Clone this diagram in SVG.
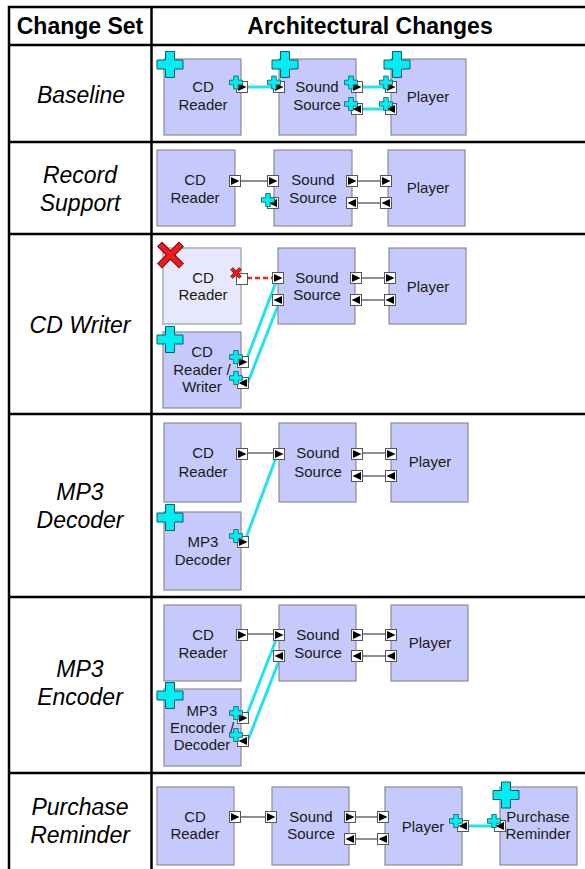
<svg xmlns="http://www.w3.org/2000/svg" width="585" height="869" viewBox="0 0 585 869">
<style>
.bg{fill:#ffffff}
.grid{stroke:#000;stroke-width:2.5;fill:none}
.hd{font-family:"Liberation Sans",Arial,sans-serif;font-weight:bold;font-size:23px;fill:#000;text-anchor:middle}
.rl{font-family:"Liberation Sans",Arial,sans-serif;font-style:italic;font-size:23px;fill:#000;text-anchor:middle}
.box{fill:#c6c9fb;stroke:#8a8a96;stroke-width:1.2}
.faded{fill:#e7e8fb;stroke:#9a9aa6;stroke-width:1.2}
.lb{font-family:"Liberation Sans",Arial,sans-serif;font-size:15px;fill:#1a1a1a;text-anchor:middle}
.gc{stroke:#6a6a6a;stroke-width:1.3;fill:none}
.cc{stroke:#22e4ee;stroke-width:3;fill:none}
.rc{stroke:#ee2222;stroke-width:2.5;stroke-dasharray:5,3;fill:none}
</style>
<defs>
<g id="pr"><rect x="0.5" y="0.5" width="11" height="11" fill="#fff" stroke="#555" stroke-width="1"/><polygon points="2,2 10.5,6 2,10" fill="#000"/></g>
<g id="pl"><rect x="0.5" y="0.5" width="11" height="11" fill="#fff" stroke="#555" stroke-width="1"/><polygon points="10,2 1.5,6 10,10" fill="#000"/></g>
<g id="pb"><rect x="0.5" y="0.5" width="11" height="11" fill="#fff" stroke="#555" stroke-width="1"/></g>
<path id="bc" d="M-4.5,-13H4.5V-4.5H13V4.5H4.5V13H-4.5V4.5H-13V-4.5H-4.5Z" fill="#00eef2" stroke="#0b5f63" stroke-width="1"/>
<path id="sc" d="M-2.3,-6.5H2.3V-2.3H6.5V2.3H2.3V6.5H-2.3V2.3H-6.5V-2.3H-2.3Z" fill="#00eef2" stroke="#0b5f63" stroke-width="0.8"/>
<g id="bx"><path d="M-11,-11L11,11M11,-11L-11,11" stroke="#7a0000" stroke-width="7" stroke-linecap="butt"/><path d="M-10.5,-10.5L10.5,10.5M10.5,-10.5L-10.5,10.5" stroke="#ee1c1c" stroke-width="5"/></g>
<g id="sx"><path d="M-4.5,-4.5L4.5,4.5M4.5,-4.5L-4.5,4.5" stroke="#7a0000" stroke-width="3.6"/><path d="M-4.3,-4.3L4.3,4.3M4.3,-4.3L-4.3,4.3" stroke="#ee1c1c" stroke-width="2.4"/></g>
</defs>
<rect class="bg" x="0" y="0" width="585" height="869"/>
<g id="table">
<path class="grid" d="M9,6V869M151.5,6V869M8,7H590M8,45H590M8,142H590M8,234H590M8,414H590M8,597H590M8,773H590"/>
<text class="hd" x="80" y="34">Change Set</text>
<text class="hd" x="370" y="34">Architectural Changes</text>
<text class="rl" x="81" y="103">Baseline</text>
<text class="rl" x="80" y="183">Record</text>
<text class="rl" x="80" y="211">Support</text>
<text class="rl" x="80" y="333">CD Writer</text>
<text class="rl" x="80" y="500">MP3</text>
<text class="rl" x="80" y="528">Decoder</text>
<text class="rl" x="80" y="677">MP3</text>
<text class="rl" x="80" y="705">Encoder</text>
<text class="rl" x="80" y="815">Purchase</text>
<text class="rl" x="80" y="843">Reminder</text>
</g>
<g id="connectors">
<path class="cc" d="M248,87H273M363,87H385M363,109H385"/>
<path class="gc" d="M241,181H267M358,181H380M358,203H380"/>
<path class="rc" d="M247,278H272"/>
<path class="gc" d="M362,278H384M362,300H384"/>
<path class="cc" d="M276,282L246,361M279,303L248,382"/>
<path class="gc" d="M248,453H273M363,453H385M363,476H385"/>
<path class="cc" d="M276,458L246,538"/>
<path class="gc" d="M248,634H273M363,634H385M363,656H385"/>
<path class="cc" d="M276,640L246,717M279,661L248,740"/>
<path class="gc" d="M241,817H265M356,817H378M356,839H378"/>
<path class="cc" d="M469,826H494"/>
</g>
<g id="baseline-cd-reader">
<rect class="box" x="164" y="59" width="77" height="76"/>
<text class="lb" x="203" y="92">CD</text><text class="lb" x="203" y="110">Reader</text>
<use href="#bc" x="170" y="64.5"/>
<use href="#pr" x="236" y="81"/><use href="#sc" x="236" y="82.5"/>
</g>
<g id="baseline-sound-source">
<rect class="box" x="279" y="59" width="77" height="76"/>
<text class="lb" x="317" y="92">Sound</text><text class="lb" x="317" y="110">Source</text>
<use href="#bc" x="285" y="64.5"/>
<use href="#pr" x="273" y="81"/><use href="#sc" x="274" y="82.5"/>
<use href="#pr" x="351" y="81"/><use href="#sc" x="351" y="82.5"/>
<use href="#pl" x="351" y="103"/><use href="#sc" x="351" y="104"/>
</g>
<g id="baseline-player">
<rect class="box" x="391" y="59" width="75" height="76"/>
<text class="lb" x="428" y="102">Player</text>
<use href="#bc" x="397" y="64.5"/>
<use href="#pr" x="385" y="81"/><use href="#sc" x="386" y="82.5"/>
<use href="#pl" x="385" y="103"/><use href="#sc" x="386" y="104"/>
</g>
<g id="record-cd-reader">
<rect class="box" x="157" y="150" width="78" height="76"/>
<text class="lb" x="195" y="185">CD</text><text class="lb" x="195" y="203">Reader</text>
<use href="#pr" x="229" y="175"/>
</g>
<g id="record-sound-source">
<rect class="box" x="274" y="150" width="78" height="76"/>
<text class="lb" x="313" y="185">Sound</text><text class="lb" x="313" y="203">Source</text>
<use href="#pr" x="267" y="175"/>
<use href="#pl" x="267" y="197"/><use href="#sc" x="268" y="200"/>
<use href="#pr" x="346" y="175"/>
<use href="#pl" x="346" y="197"/>
</g>
<g id="record-player">
<rect class="box" x="388" y="150" width="77" height="76"/>
<text class="lb" x="428" y="193">Player</text>
<use href="#pr" x="380" y="175"/>
<use href="#pl" x="380" y="197"/>
</g>
<g id="writer-cd-reader">
<rect class="faded" x="163" y="248" width="78" height="76"/>
<text class="lb" x="203" y="283">CD</text><text class="lb" x="203" y="300">Reader</text>
<use href="#bx" x="170.5" y="255"/>
<use href="#pb" x="236" y="273"/><use href="#sx" x="236" y="273"/>
</g>
<g id="writer-sound-source">
<rect class="box" x="278" y="248" width="77" height="76"/>
<text class="lb" x="317" y="283">Sound</text><text class="lb" x="317" y="300">Source</text>
<use href="#pr" x="272" y="272"/>
<use href="#pl" x="272" y="294"/>
<use href="#pr" x="350" y="272"/>
<use href="#pl" x="350" y="294"/>
</g>
<g id="writer-player">
<rect class="box" x="389" y="248" width="77" height="76"/>
<text class="lb" x="428" y="292">Player</text>
<use href="#pr" x="384" y="272"/>
<use href="#pl" x="384" y="294"/>
</g>
<g id="writer-cd-reader-writer">
<rect class="box" x="163" y="332" width="78" height="76"/>
<text class="lb" x="202" y="357">CD</text><text class="lb" x="202" y="375">Reader /</text><text class="lb" x="202" y="392">Writer</text>
<use href="#bc" x="170" y="339.5"/>
<use href="#pr" x="237" y="356"/><use href="#sc" x="236" y="357"/>
<use href="#pl" x="237" y="377"/><use href="#sc" x="236" y="378"/>
</g>
<g id="decoder-cd-reader">
<rect class="box" x="164" y="423" width="77" height="79"/>
<text class="lb" x="203" y="458">CD</text><text class="lb" x="203" y="477">Reader</text>
<use href="#pr" x="236" y="448"/>
</g>
<g id="decoder-sound-source">
<rect class="box" x="279" y="423" width="77" height="79"/>
<text class="lb" x="318" y="458">Sound</text><text class="lb" x="318" y="477">Source</text>
<use href="#pr" x="273" y="448"/>
<use href="#pr" x="351" y="448"/>
<use href="#pl" x="351" y="470"/>
</g>
<g id="decoder-player">
<rect class="box" x="391" y="423" width="77" height="79"/>
<text class="lb" x="430" y="467">Player</text>
<use href="#pr" x="385" y="448"/>
<use href="#pl" x="385" y="470"/>
</g>
<g id="decoder-mp3-decoder">
<rect class="box" x="164" y="512" width="77" height="78"/>
<text class="lb" x="203" y="547">MP3</text><text class="lb" x="203" y="565">Decoder</text>
<use href="#bc" x="170" y="517.5"/>
<use href="#pr" x="237" y="536"/><use href="#sc" x="236" y="536"/>
</g>
<g id="encoder-cd-reader">
<rect class="box" x="164" y="605" width="77" height="76"/>
<text class="lb" x="203" y="640">CD</text><text class="lb" x="203" y="658">Reader</text>
<use href="#pr" x="236" y="629"/>
</g>
<g id="encoder-sound-source">
<rect class="box" x="279" y="605" width="77" height="76"/>
<text class="lb" x="318" y="640">Sound</text><text class="lb" x="318" y="658">Source</text>
<use href="#pr" x="273" y="629"/>
<use href="#pl" x="273" y="650"/>
<use href="#pr" x="351" y="629"/>
<use href="#pl" x="351" y="650"/>
</g>
<g id="encoder-player">
<rect class="box" x="391" y="605" width="77" height="76"/>
<text class="lb" x="430" y="648">Player</text>
<use href="#pr" x="385" y="629"/>
<use href="#pl" x="385" y="650"/>
</g>
<g id="encoder-mp3-encoder-decoder">
<rect class="box" x="164" y="689" width="77" height="77"/>
<text class="lb" x="202" y="716">MP3</text><text class="lb" x="202" y="733">Encoder /</text><text class="lb" x="202" y="750">Decoder</text>
<use href="#bc" x="170" y="695.5"/>
<use href="#pr" x="237" y="712"/><use href="#sc" x="236" y="713"/>
<use href="#pl" x="237" y="735"/><use href="#sc" x="236" y="735"/>
</g>
<g id="reminder-cd-reader">
<rect class="box" x="157" y="787" width="77" height="78"/>
<text class="lb" x="195" y="822">CD</text><text class="lb" x="195" y="839">Reader</text>
<use href="#pr" x="229" y="811"/>
</g>
<g id="reminder-sound-source">
<rect class="box" x="272" y="787" width="77" height="78"/>
<text class="lb" x="311" y="822">Sound</text><text class="lb" x="311" y="839">Source</text>
<use href="#pr" x="265" y="811"/>
<use href="#pr" x="344" y="811"/>
<use href="#pl" x="344" y="833"/>
</g>
<g id="reminder-player">
<rect class="box" x="385" y="787" width="77" height="78"/>
<text class="lb" x="423" y="832">Player</text>
<use href="#pr" x="377" y="811"/>
<use href="#pl" x="377" y="833"/>
<use href="#pl" x="457" y="820"/><use href="#sc" x="456" y="821"/>
</g>
<g id="reminder-purchase-reminder">
<rect class="box" x="500" y="787" width="77" height="78"/>
<text class="lb" x="538" y="822">Purchase</text><text class="lb" x="538" y="839">Reminder</text>
<use href="#bc" x="506" y="795"/>
<use href="#pl" x="494" y="820"/><use href="#sc" x="494" y="821"/>
</g>
</svg>
